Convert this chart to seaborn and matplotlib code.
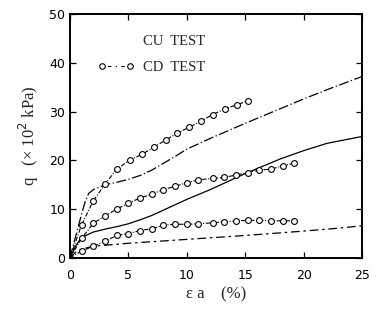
import pandas as pd
import seaborn as sns
import matplotlib.pyplot as plt
from matplotlib.lines import Line2D

# CD test, measured points (strain %, q x10^2 kPa)
cd_eps_hi = [0, 1, 2, 3, 4, 5.1, 6.2, 7.2, 8.2, 9.2, 10.2, 11.2, 12.2, 13.3, 14.3, 15.2]
cd_q_hi = [0, 6.8, 11.7, 15.1, 18.2, 20.0, 21.3, 22.7, 24.2, 25.6, 26.8, 28.0, 29.4, 30.6, 31.4, 32.2]

cd_eps_mid = [0, 1, 2, 3, 4, 5, 6, 7, 8, 9, 10, 11, 12.2, 13.2, 14.2, 15.2, 16.2, 17.2, 18.2, 19.2]
cd_q_mid = [0, 4.0, 7.1, 8.6, 10.0, 11.2, 12.3, 13.1, 14.0, 14.7, 15.4, 16.0, 16.3, 16.5, 17.0, 17.5, 18.0, 18.2, 18.9, 19.4]

cd_eps_lo = [0, 1, 2, 3, 4, 5, 6, 7, 8, 9, 10, 11, 12.2, 13.2, 14.2, 15.2, 16.2, 17.2, 18.2, 19.2]
cd_q_lo = [0, 1.4, 2.4, 3.4, 4.6, 5.0, 5.6, 6.0, 6.7, 6.9, 6.9, 7.0, 7.2, 7.4, 7.6, 7.7, 7.7, 7.6, 7.6, 7.6]

# CU test curves
cu_eps_1 = [0, 0.5, 1.0, 1.3, 1.6, 2, 3, 4, 5, 6, 7, 8, 9, 10, 12, 15, 18, 20, 22, 25]
cu_q_1 = [0, 4.5, 9.0, 11.5, 13.2, 14.0, 15.0, 15.5, 16.1, 16.9, 18.0, 19.4, 20.8, 22.3, 24.5, 27.6, 30.6, 32.6, 34.5, 37.2]

cu_eps_2 = [0, 0.5, 1, 2, 3, 4, 5, 6, 7, 8, 10, 12, 15, 18, 20, 22, 25]
cu_q_2 = [0, 2.5, 4.2, 5.3, 5.9, 6.4, 7.0, 7.8, 8.7, 9.8, 12.0, 14.0, 17.3, 20.3, 22.0, 23.5, 24.9]

cu_eps_3 = [0, 0.5, 1, 2, 5, 10, 15, 20, 23, 25]
cu_q_3 = [0, 1.2, 1.8, 2.4, 3.0, 3.8, 4.6, 5.5, 6.1, 6.6]

x_ticks = [0, 5, 10, 15, 20, 25]
y_ticks = [0, 10, 20, 30, 40, 50]

sns.set_style('ticks')
plt.rcParams['font.family'] = ['DejaVu Sans']
serif = ['Liberation Serif', 'DejaVu Serif']

fig = plt.figure(figsize=(3.8, 3.13), dpi=100)
ax = fig.add_axes([0.184, 0.176, 0.769, 0.779])

cu_styles = [(0, (8, 2, 1, 2)), '-', (0, (7, 3, 2, 3))]
for (ex, qy), ls in zip([(cu_eps_1, cu_q_1), (cu_eps_2, cu_q_2), (cu_eps_3, cu_q_3)], cu_styles):
    sns.lineplot(x=ex, y=qy, ax=ax, color='black', lw=0.9, linestyle=ls, sort=False)

for ex, qy in [(cd_eps_hi, cd_q_hi), (cd_eps_mid, cd_q_mid), (cd_eps_lo, cd_q_lo)]:
    sns.lineplot(x=ex, y=qy, ax=ax, color='black', lw=0.8, linestyle=(0, (4, 1.5, 1, 1.5)),
                 marker='o', markersize=4.2, markerfacecolor='white', markeredgecolor='black',
                 markeredgewidth=0.8, markevery=list(range(1, len(ex))), sort=False)

ax.set_xlim(0, 25)
ax.set_ylim(0, 50)
ax.set_xticks(x_ticks)
ax.set_yticks(y_ticks)
ax.tick_params(direction='in', length=4, width=0.9, labelsize=9, top=True, right=True,
               colors='black')
ax.tick_params(axis='x', pad=8)
ax.tick_params(axis='y', pad=3.5)
for s in ax.spines.values():
    s.set_linewidth(1.4)
    s.set_color('black')

ax.set_xlabel('\u03b5 a    (%)', family=serif, fontsize=12, labelpad=3)
ax.set_ylabel('q   (\u00d7 10$^2$ kPa)', family=serif, fontsize=12, labelpad=6)

handles = [Line2D([], [], color='none'),
           Line2D([], [], color='black', lw=0.8, linestyle=(0, (1, 4, 3, 4)), marker='o',
                  markersize=4, markerfacecolor='white', markeredgecolor='black', markeredgewidth=0.8)]
leg = ax.legend(handles, ['CU  TEST', 'CD  TEST'], loc='upper left', bbox_to_anchor=(0.096, 0.915),
                frameon=False, numpoints=2, handlelength=2.5, handletextpad=0.6, labelspacing=0.9,
                borderpad=0, borderaxespad=0, prop={'family': serif, 'size': 10.5})

fig.savefig('out.png', dpi=100)
